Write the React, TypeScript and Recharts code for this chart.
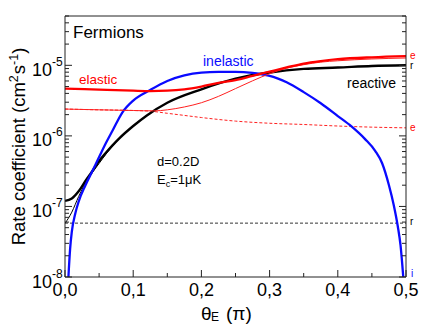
import React from 'react';
import { LineChart, Line, XAxis, YAxis } from 'recharts';

// theta_E in units of pi, rate coefficients in cm^3 s^-1
const elasticTheta = [0, 0.05, 0.1, 0.125, 0.15, 0.175, 0.2, 0.225, 0.25, 0.275, 0.3, 0.325, 0.35, 0.375, 0.4, 0.45, 0.5];
const elasticRate = [4.68e-6, 4.52e-6, 4.37e-6, 4.32e-6, 4.37e-6, 4.57e-6, 5.0e-6, 5.62e-6, 6.17e-6, 7.08e-6, 8.13e-6, 9.33e-6, 1.06e-5, 1.15e-5, 1.22e-5, 1.3e-5, 1.35e-5];

const elasticThinTheta = [0, 0.05, 0.1, 0.13, 0.15, 0.175, 0.2, 0.225, 0.25, 0.275, 0.3, 0.325, 0.35, 0.375, 0.4, 0.45, 0.5];
const elasticThinRate = [2.4e-6, 2.34e-6, 2.29e-6, 2.26e-6, 2.34e-6, 2.57e-6, 2.95e-6, 3.63e-6, 4.68e-6, 6.03e-6, 7.6e-6, 9.1e-6, 1.02e-5, 1.11e-5, 1.16e-5, 1.23e-5, 1.27e-5];

const elasticDashTheta = [0, 0.05, 0.1, 0.125, 0.15, 0.175, 0.2, 0.25, 0.3, 0.35, 0.4, 0.45, 0.5];
const elasticDashRate = [2.4e-6, 2.34e-6, 2.29e-6, 2.24e-6, 2.09e-6, 1.95e-6, 1.82e-6, 1.62e-6, 1.51e-6, 1.45e-6, 1.38e-6, 1.33e-6, 1.3e-6];

const reactiveTheta = [0, 0.01, 0.02, 0.03, 0.04, 0.05, 0.06, 0.07, 0.08, 0.1, 0.12, 0.15, 0.2, 0.25, 0.3, 0.35, 0.4, 0.45, 0.5];
const reactiveRate = [1.2e-7, 1.3e-7, 1.64e-7, 2.3e-7, 3.16e-7, 4.4e-7, 5.75e-7, 7.4e-7, 9.3e-7, 1.38e-6, 1.95e-6, 2.95e-6, 4.57e-6, 6.46e-6, 7.9e-6, 8.9e-6, 9.3e-6, 9.8e-6, 1.0e-5];

const reactiveThinTheta = [0, 0.01, 0.02, 0.03, 0.04, 0.05, 0.06, 0.07, 0.08, 0.1];
const reactiveThinRate = [5.75e-8, 8.3e-8, 1.38e-7, 2.14e-7, 3.0e-7, 4.07e-7, 5.5e-7, 7.2e-7, 9.2e-7, 1.38e-6];

const reactiveDashTheta = [0, 0.5];
const reactiveDashRate = [5.8e-8, 5.8e-8];

const inelasticTheta = [0.005, 0.0075, 0.01, 0.015, 0.02, 0.03, 0.04, 0.05, 0.06, 0.07, 0.084, 0.1, 0.125, 0.15, 0.175, 0.2, 0.225, 0.25, 0.275, 0.29, 0.3, 0.325, 0.35, 0.375, 0.4, 0.42, 0.44, 0.455, 0.465, 0.475, 0.482, 0.488, 0.492, 0.496];
const inelasticRate = [1e-8, 2.5e-8, 4.4e-8, 7.9e-8, 1.17e-7, 2.0e-7, 3.16e-7, 5.0e-7, 7.9e-7, 1.2e-6, 2.14e-6, 3.16e-6, 4.47e-6, 6.0e-6, 7.2e-6, 7.9e-6, 8.1e-6, 8.1e-6, 7.8e-6, 7.4e-6, 7.1e-6, 5.75e-6, 4.17e-6, 2.9e-6, 1.91e-6, 1.36e-6, 9.0e-7, 6.1e-7, 4.1e-7, 2.0e-7, 1.05e-7, 5.2e-8, 2.8e-8, 1e-8];

const xTicks = [0, 0.05, 0.1, 0.15, 0.2, 0.25, 0.3, 0.35, 0.4, 0.45, 0.5];
const yTicks = [
  1e-8, 2e-8, 3e-8, 4e-8, 5e-8, 6e-8, 7e-8, 8e-8, 9e-8,
  1e-7, 2e-7, 3e-7, 4e-7, 5e-7, 6e-7, 7e-7, 8e-7, 9e-7,
  1e-6, 2e-6, 3e-6, 4e-6, 5e-6, 6e-6, 7e-6, 8e-6, 9e-6,
  1e-5, 2e-5, 3e-5, 4e-5, 5e-5,
];

const toPoints = (xs: number[], ys: number[]) => xs.map((x, i) => ({ x, y: ys[i] }));

const W = 423;
const H = 327;
const PL = 65;
const PR = 406;
const PT = 16;
const PB = 277;
const FONT = '"Liberation Sans", Arial, Helvetica, sans-serif';
const AXIS = '#222';
const RED = '#ff0000';
const BLUE = '#0a0aff';

const isDecade = (v: number) => {
  const lg = Math.log10(v);
  return Math.abs(lg - Math.round(lg)) < 1e-6;
};
const isTenth = (v: number) => Math.abs(v * 10 - Math.round(v * 10)) < 1e-6;

const LeftTick = ({ y, payload }: any) => {
  const major = isDecade(payload.value);
  const exp = Math.round(Math.log10(payload.value));
  return (
    <g>
      <line x1={PL} x2={PL + (major ? 7 : 4)} y1={y} y2={y} stroke={AXIS} />
      {major && (
        <>
          <text x={52} y={y + 10.5} textAnchor="end" fontSize={18} fontFamily={FONT} fill="#000">10</text>
          <text x={52} y={y + 0.5} fontSize={12} fontFamily={FONT} fill="#000">{exp}</text>
        </>
      )}
    </g>
  );
};

const RightTick = ({ y, payload }: any) => {
  const major = isDecade(payload.value);
  return <line x1={PR} x2={PR - (major ? 7 : 4)} y1={y} y2={y} stroke={AXIS} />;
};

const BottomTick = ({ x, payload }: any) => {
  const major = isTenth(payload.value);
  return (
    <g>
      <line x1={x} x2={x} y1={PB} y2={PB - (major ? 7 : 4)} stroke={AXIS} />
      {major && (
        <text x={x} y={296} textAnchor="middle" fontSize={18} fontFamily={FONT} fill="#000">
          {payload.value.toFixed(1).replace('.', ',')}
        </text>
      )}
    </g>
  );
};

const TopTick = ({ x, payload }: any) => {
  const major = isTenth(payload.value);
  return <line x1={x} x2={x} y1={PT} y2={PT + (major ? 7 : 4)} stroke={AXIS} />;
};

const App = () => {
  return (
    <div style={{ position: 'absolute', left: 0, top: 0, width: W, height: H, background: '#fff' }}>
      <LineChart width={W} height={H} margin={{ top: 0, right: 0, bottom: 0, left: 0 }}>
        <XAxis
          xAxisId={0}
          dataKey="x"
          type="number"
          domain={[0, 0.5]}
          ticks={xTicks}
          interval={0}
          height={H - PB}
          allowDataOverflow
          axisLine={{ stroke: AXIS }}
          tickLine={false}
          tick={<BottomTick />}
        />
        <XAxis
          xAxisId="top"
          orientation="top"
          dataKey="x"
          type="number"
          domain={[0, 0.5]}
          ticks={xTicks}
          interval={0}
          height={PT}
          axisLine={{ stroke: AXIS }}
          tickLine={false}
          tick={<TopTick />}
        />
        <YAxis
          yAxisId={0}
          type="number"
          scale="log"
          domain={[1e-8, 5e-5]}
          ticks={yTicks}
          interval={0}
          width={PL}
          allowDataOverflow
          axisLine={{ stroke: AXIS }}
          tickLine={false}
          tick={<LeftTick />}
        />
        <YAxis
          yAxisId="right"
          orientation="right"
          type="number"
          scale="log"
          domain={[1e-8, 5e-5]}
          ticks={yTicks}
          interval={0}
          width={W - PR}
          allowDataOverflow
          axisLine={{ stroke: AXIS }}
          tickLine={false}
          tick={<RightTick />}
        />

        <Line data={toPoints(reactiveDashTheta, reactiveDashRate)} dataKey="y" type="linear" stroke="#333" strokeWidth={1} strokeDasharray="3 2" dot={false} isAnimationActive={false} />
        <Line data={toPoints(elasticDashTheta, elasticDashRate)} dataKey="y" type="monotone" stroke="#ff2020" strokeWidth={1} strokeDasharray="3 2" dot={false} isAnimationActive={false} />
        <Line data={toPoints(reactiveThinTheta, reactiveThinRate)} dataKey="y" type="monotone" stroke="#000" strokeWidth={1} dot={false} isAnimationActive={false} />
        <Line data={toPoints(reactiveTheta, reactiveRate)} dataKey="y" type="monotone" stroke="#000" strokeWidth={2.4} dot={false} isAnimationActive={false} />
        <Line data={toPoints(inelasticTheta, inelasticRate)} dataKey="y" type="monotone" stroke={BLUE} strokeWidth={2.3} dot={false} isAnimationActive={false} />
        <Line data={toPoints(elasticThinTheta, elasticThinRate)} dataKey="y" type="monotone" stroke="#ff2020" strokeWidth={1} dot={false} isAnimationActive={false} />
        <Line data={toPoints(elasticTheta, elasticRate)} dataKey="y" type="monotone" stroke={RED} strokeWidth={2.3} dot={false} isAnimationActive={false} />
      </LineChart>

      <svg width={W} height={H} style={{ position: 'absolute', left: 0, top: 0, pointerEvents: 'none' }} fontFamily={FONT}>
        <text x={73} y={38} fontSize={17} fill="#000">Fermions</text>
        <text x={79} y={84} fontSize={13.5} fill={RED}>elastic</text>
        <text x={203} y={66} fontSize={14} fill={BLUE}>inelastic</text>
        <text x={347} y={88} fontSize={14} fill="#000">reactive</text>
        <text x={157} y={166} fontSize={13} fill="#000">d=0.2D</text>
        <text x={157} y={184} fontSize={13} fill="#000">
          E<tspan fontSize={9} dy={3}>c</tspan><tspan dy={-3}>=1μK</tspan>
        </text>

        <text x={410} y={59} fontSize={10} fill={RED}>e</text>
        <text x={410} y={69} fontSize={10} fill="#000">r</text>
        <text x={410} y={131} fontSize={10} fill={RED}>e</text>
        <text x={410} y={225} fontSize={10} fill="#000">r</text>
        <text x={411} y={277} fontSize={10} fill={BLUE}>i</text>

        <text transform="translate(25,146.5) rotate(-90)" textAnchor="middle" fontSize={18.5} fill="#000">
          Rate coefficient (cm<tspan fontSize={12.5} dy={-7}>2</tspan>
          <tspan dy={7} dx={1}>s</tspan><tspan fontSize={12.5} dy={-7}>-1</tspan><tspan dy={7}>)</tspan>
        </text>

        <text x={201} y={320} fontSize={19} fill="#000">θ</text>
        <text x={211} y={321} fontSize={12} fill="#000">E</text>
        <text x={226} y={320} fontSize={19} fill="#000">(π)</text>
      </svg>
    </div>
  );
};

export default App;
